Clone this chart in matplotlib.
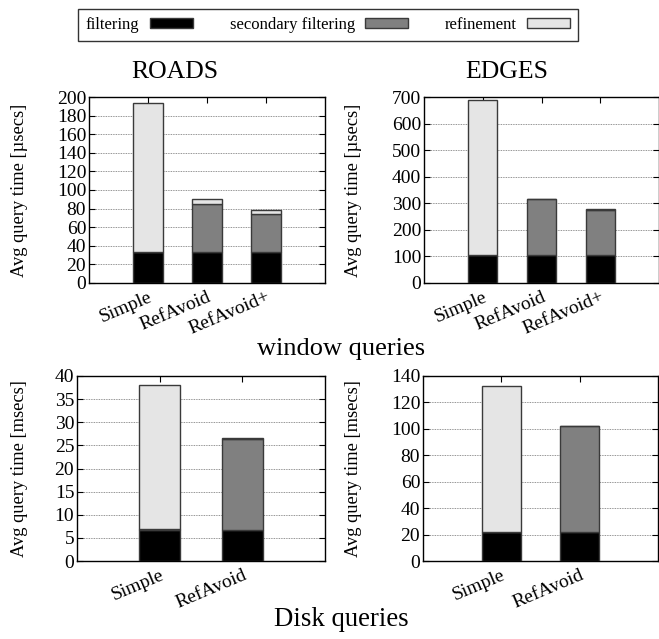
import numpy as np
import matplotlib
matplotlib.use('Agg')
import matplotlib.pyplot as plt
from matplotlib.patches import Patch

matplotlib.rcParams['font.family'] = 'Liberation Serif'
matplotlib.rcParams['font.size'] = 14

# data (component times, stacked)
win_methods = ['Simple', 'RefAvoid', 'RefAvoid+']
disk_methods = ['Simple', 'RefAvoid']

roads_filter = [33, 33, 33]
roads_secondary = [0, 52, 41]
roads_refine = [161, 5, 5]

edges_filter = [105, 105, 105]
edges_secondary = [0, 210, 170]
edges_refine = [585, 3, 3]

disk_roads_filter = [6.8, 6.8]
disk_roads_secondary = [0.2, 19.6]
disk_roads_refine = [31.0, 0.2]

disk_edges_filter = [22, 22]
disk_edges_secondary = [0, 80]
disk_edges_refine = [110.5, 0.5]

labels = ['filtering', 'secondary filtering', 'refinement']
colors = ['#000000', '#808080', '#e5e5e5']
edge = '#3a3a3a'

W, H = 659, 639
fig = plt.figure(figsize=(W / 100, H / 100), dpi=100)


def px_axes(l, t, r, b):
    return fig.add_axes([l / W, 1 - b / H, (r - l) / W, (b - t) / H])


def draw(ax, methods, filt, sec, ref, ymax, ystep, ylabel, labx):
    x = np.arange(len(methods))
    parts = [np.array(filt, dtype=float), np.array(sec, dtype=float),
             np.array(ref, dtype=float)]
    bottom = np.zeros(len(methods))
    for i in range(3):
        ax.bar(x, parts[i], width=0.5, bottom=bottom, color=colors[i],
               edgecolor=edge, linewidth=1.0, zorder=3)
        bottom = bottom + parts[i]
    ax.set_xlim(-1, len(methods))
    ax.set_ylim(0, ymax)
    ax.set_yticks(np.arange(0, ymax + ystep / 2, ystep))
    ax.set_xticks(x)
    ax.set_xticklabels(methods, rotation=23, ha='right', rotation_mode='anchor')
    ax.tick_params(axis='both', direction='in', top=True, right=True,
                   length=4, width=0.8, labelsize=14, pad=4)
    ax.tick_params(axis='y', pad=2)
    ax.grid(axis='y', linestyle=(0, (1, 1)), color='#707070', linewidth=0.6, zorder=0)
    ax.set_ylabel(ylabel, fontsize=13.3)
    ax.yaxis.set_label_coords(labx, 0.5)
    for s in ax.spines.values():
        s.set_linewidth(1.0)


ax1 = px_axes(89, 97, 325, 283)
draw(ax1, win_methods, roads_filter, roads_secondary, roads_refine, 200, 20,
     'Avg query time [µsecs]', -0.258)
ax2 = px_axes(424, 97, 659, 283)
draw(ax2, win_methods, edges_filter, edges_secondary, edges_refine, 700, 100,
     'Avg query time [µsecs]', -0.264)
ax3 = px_axes(77, 376, 325, 561)
draw(ax3, disk_methods, disk_roads_filter, disk_roads_secondary, disk_roads_refine,
     40, 5, 'Avg query time [msecs]', -0.198)
ax4 = px_axes(423, 376, 658, 561)
draw(ax4, disk_methods, disk_edges_filter, disk_edges_secondary, disk_edges_refine,
     140, 20, 'Avg query time [msecs]', -0.26)

fig.text(175 / W, 1 - 72 / H, 'ROADS', ha='center', va='center', fontsize=18.5)
fig.text(507 / W, 1 - 72 / H, 'EDGES', ha='center', va='center', fontsize=18.5)
fig.text(341 / W, 1 - 349 / H, 'window queries', ha='center', va='center', fontsize=19)
fig.text(341 / W, 1 - 619 / H, 'Disk queries', ha='center', va='center', fontsize=19.3)

handles = [Patch(facecolor=colors[i], edgecolor=edge, linewidth=1.0) for i in range(3)]
leg = fig.legend(handles, labels, loc='center', bbox_to_anchor=(328 / W, 1 - 25 / H),
                 ncol=3, markerfirst=False, fontsize=12, frameon=True, fancybox=False,
                 handlelength=2.6, handleheight=0.5, columnspacing=2.2,
                 handletextpad=0.6, borderpad=0.5)
leg.get_frame().set_edgecolor('black')
leg.get_frame().set_linewidth(1.0)

plt.savefig('out.png', dpi=100)
